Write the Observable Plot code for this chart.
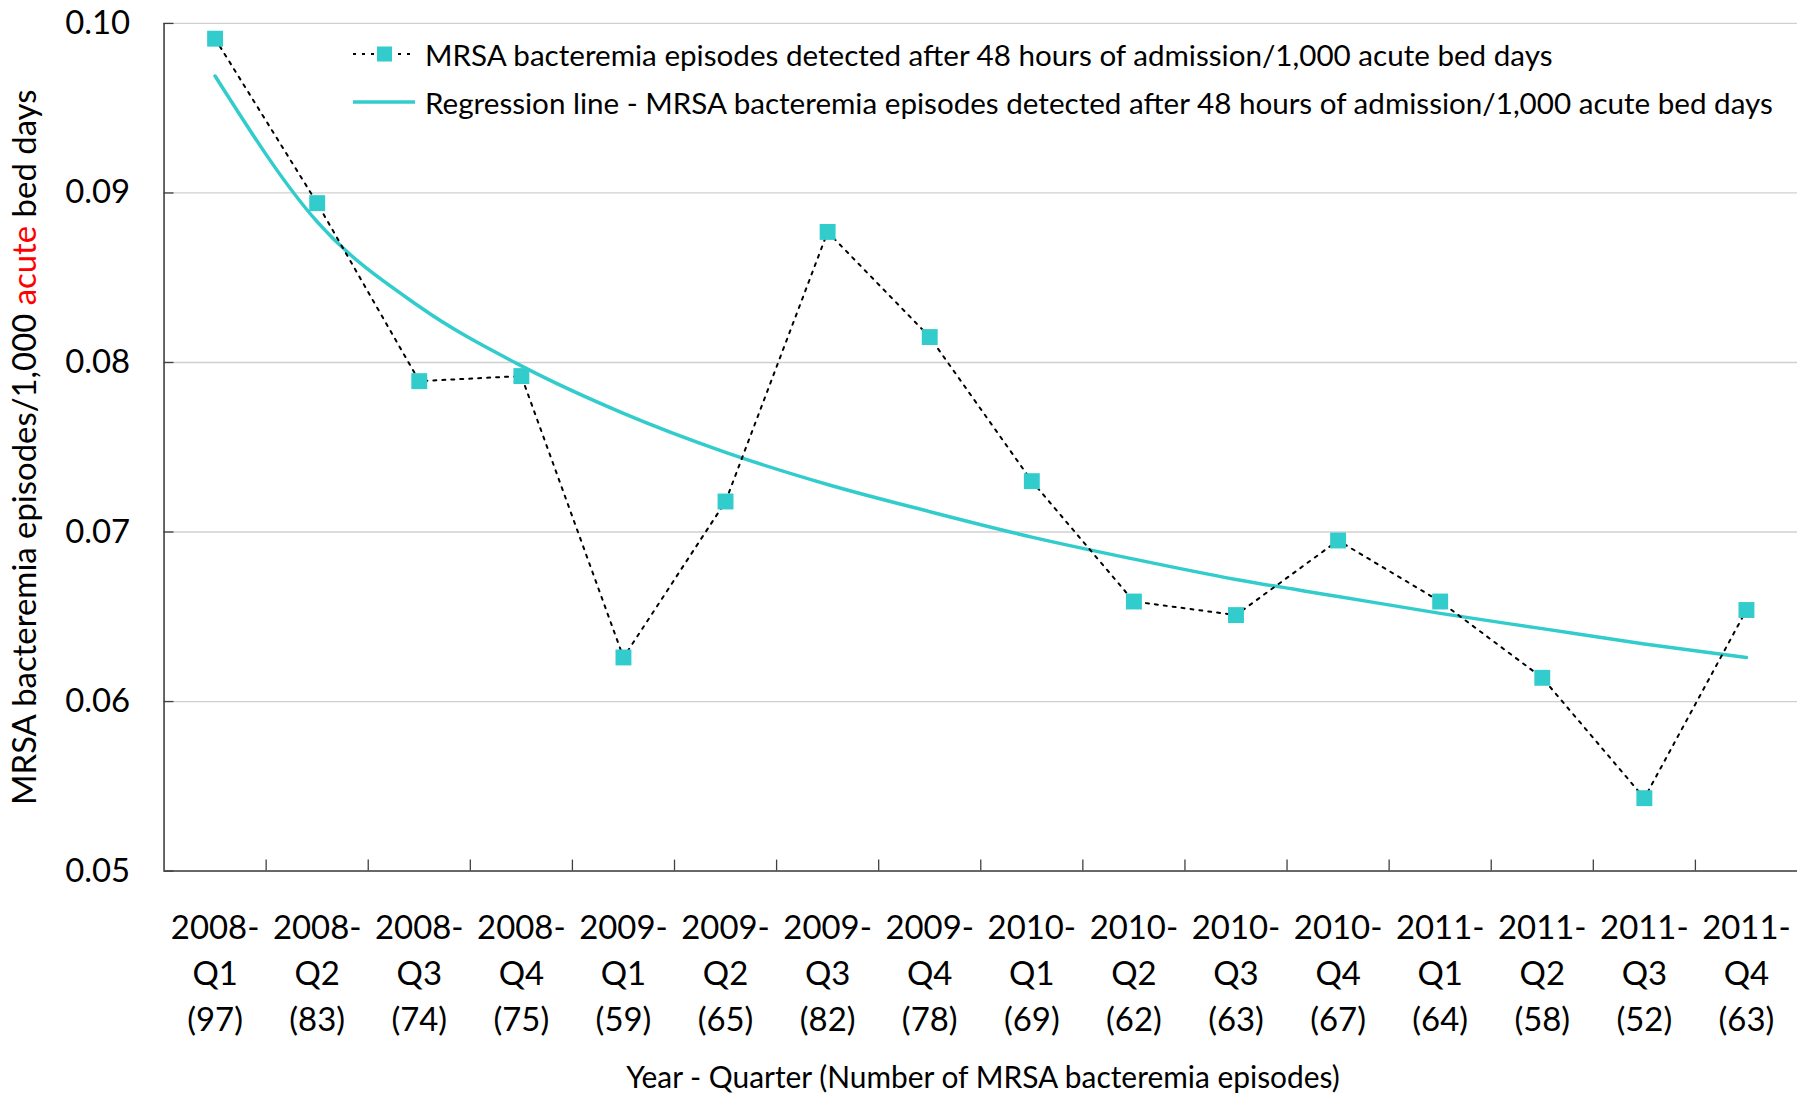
<!DOCTYPE html>
<html><head><meta charset="utf-8">
<script src="https://cdn.jsdelivr.net/npm/d3@7"></script>
<script src="https://cdn.jsdelivr.net/npm/@observablehq/plot@0.6"></script>
<style>
html,body{margin:0;padding:0;background:#fff;overflow:hidden;}
#wrap{position:relative;width:1797px;height:1098px;overflow:hidden;font-family:Lato,"Open Sans",sans-serif;}
#chart svg{display:block;}
#legend{position:absolute;left:353px;top:30px;font-size:29.6px;color:#000;}
#legend .row{display:flex;align-items:center;height:48px;white-space:nowrap;}
#legend svg{margin-right:10px;}
#xtitle{box-sizing:border-box;padding-left:164px;width:1802px;height:38px;line-height:38px;font-size:29.9px;text-align:center;color:#000;white-space:nowrap;}
</style></head><body><div id="wrap"><div id="chart"></div><div id="xtitle"></div><div id="legend"></div></div>
<script>
const quarters = ["2008-Q1","2008-Q2","2008-Q3","2008-Q4","2009-Q1","2009-Q2","2009-Q3","2009-Q4","2010-Q1","2010-Q2","2010-Q3","2010-Q4","2011-Q1","2011-Q2","2011-Q3","2011-Q4"];
const episodes = [97,83,74,75,59,65,82,78,69,62,63,67,64,58,52,63];
const rates = [0.0991,0.0894,0.0789,0.0792,0.0626,0.0718,0.0877,0.0815,0.0730,0.0659,0.0651,0.0695,0.0659,0.0614,0.0543,0.0654];
const trend = [0.0969,0.0883,0.0833,0.0798,0.0770,0.0747,0.0728,0.0712,0.0697,0.0684,0.0672,0.0662,0.0652,0.0643,0.0634,0.0626];
const yTicks = [0.05,0.06,0.07,0.08,0.09,0.10];
const seriesLabel = "MRSA bacteremia episodes detected after 48 hours of admission/1,000 acute bed days";
const trendLabel = "Regression line - MRSA bacteremia episodes detected after 48 hours of admission/1,000 acute bed days";
const xTitle = "Year - Quarter (Number of MRSA bacteremia episodes)";
const yTitleParts = ["MRSA bacteremia episodes/1,000 ", "acute", " bed days"];

const teal = "#33CCCC";
const data = quarters.map((q, i) => ({idx: i + 1, q, n: episodes[i], rate: rates[i], trend: trend[i]}));
const idxs = data.map(d => d.idx);
const bounds = idxs.slice(1).map(i => i - 0.5);

const W = 1802, H = 1060, ML = 164, MT = 23, MB = 187;
const plotW = W - ML, plotH = H - MT - MB;

const chart = Plot.plot({
  width: W, height: H,
  marginLeft: ML, marginRight: 0, marginTop: MT, marginBottom: MB,
  style: {fontFamily: "Lato, 'Open Sans', sans-serif", fontSize: "33px", color: "#000", background: "#fff"},
  x: {type: "linear", domain: [0.5, quarters.length + 0.5]},
  y: {domain: [0.05, 0.10]},
  marks: [
    Plot.gridY(yTicks, {stroke: "#d0d0d0", strokeOpacity: 1, strokeWidth: 1.3}),
    Plot.ruleY([0.05], {stroke: "#404040", strokeWidth: 1.6}),
    Plot.ruleX([0.5], {stroke: "#404040", strokeWidth: 1.6}),
    Plot.ruleY(yTicks, {stroke: "#404040", strokeWidth: 1.3, insetRight: plotW - 10}),
    Plot.ruleX(bounds, {stroke: "#404040", strokeWidth: 1.3, insetTop: plotH - 11}),
    Plot.axisY(yTicks, {tickSize: 0, tickPadding: 34, tickFormat: d3.format(".2f"),
      label: yTitleParts.join(""), labelAnchor: "center", labelOffset: 152, labelArrow: "none", fontSize: 33}),
    Plot.axisX(idxs, {tickSize: 0, tickPadding: 36, lineHeight: 1.39,
      tickFormat: i => quarters[i - 1].replace("-", "-\n") + "\n(" + episodes[i - 1] + ")",
      fontSize: 33, label: null}),
    Plot.line(data, {x: "idx", y: "trend", stroke: teal, strokeWidth: 3.5, curve: "monotone-x"}),
    Plot.line(data, {x: "idx", y: "rate", stroke: "#000", strokeWidth: 2, strokeDasharray: "3,6"}),
    Plot.dot(data, {x: "idx", y: "rate", symbol: "square", r: 9, fill: teal, stroke: "none"})
  ]
});
document.getElementById("chart").appendChild(chart);
document.getElementById("xtitle").textContent = xTitle;

// colour the word "acute" in the y-axis title
const yLab = chart.querySelector('g[aria-label="y-axis label"] text');
if (yLab) {
  yLab.textContent = "";
  yTitleParts.forEach((p, i) => {
    const t = document.createElementNS("http://www.w3.org/2000/svg", "tspan");
    t.textContent = p;
    if (i === 1) t.setAttribute("fill", "#ff0000");
    yLab.appendChild(t);
  });
}

// legend
const legend = document.getElementById("legend");
legend.innerHTML = `
<div class="row"><svg width="62" height="20"><line x1="0" x2="62" y1="10" y2="10" stroke="#000" stroke-width="2" stroke-dasharray="3,6"/><rect x="24" y="2.5" width="15" height="15" fill="${teal}"/></svg><span>${seriesLabel}</span></div>
<div class="row"><svg width="62" height="20"><line x1="0" x2="62" y1="10" y2="10" stroke="${teal}" stroke-width="3.5"/></svg><span>${trendLabel}</span></div>`;
</script>
</body></html>
